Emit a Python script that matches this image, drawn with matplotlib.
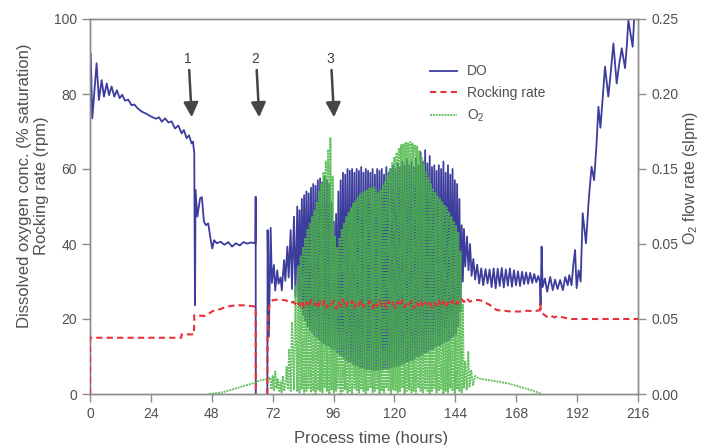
import numpy as np
import matplotlib
matplotlib.use("Agg")
import matplotlib.pyplot as plt

plt.rcParams['font.family'] = ['Liberation Sans', 'DejaVu Sans']
plt.rcParams['mathtext.fontset'] = 'custom'
plt.rcParams['mathtext.rm'] = 'Liberation Sans'
plt.rcParams['mathtext.it'] = 'Liberation Sans:italic'

# ---------------- data ----------------
x_ticks = [0, 24, 48, 72, 96, 120, 144, 168, 192, 216]
left_ticks = [0, 20, 40, 60, 80, 100]
right_ticks = [0.0, 0.05, 0.10, 0.15, 0.20, 0.25]
right_tick_labels = ['0.00', '0.05', '0.05', '0.15', '0.20', '0.25']

# DO (% saturation) - early phase
do_t_a = [0.3, 0.9, 2.6, 3.5, 4.6, 5.5, 6.6, 7.5, 8.5, 9.6, 10.6, 11.7, 12.7, 13.8, 15.1, 16.4,
          17.5, 18.6, 20.4, 22.0, 24.3, 26.0, 27.2, 28.3, 29.6, 30.9, 32.2, 33.5, 34.8, 36.1, 37.0,
          38.1, 39.0, 40.1, 40.6, 41.1, 41.25, 41.4, 41.6, 42.3, 43.4, 44.1, 44.9, 45.7, 46.6,
          47.6, 48.2, 48.9, 50.0, 51.5, 53.0, 54.5, 56.0, 57.5, 59.0, 60.5, 62.0, 63.5, 65.2,
          65.3, 65.35]
do_v_a = [90.8, 73.5, 88.2, 78.4, 83.7, 79.3, 82.8, 79.7, 82.0, 79.3, 81.0, 78.9, 79.8, 78.2, 78.5, 77.0,
          77.2, 76.3, 75.3, 74.8, 73.9, 73.4, 73.8, 72.6, 73.5, 72.4, 72.7, 70.8, 71.6, 69.5, 70.4,
          68.2, 69.0, 66.8, 67.3, 64.2, 40.0, 23.7, 54.4, 47.3, 52.2, 52.5, 46.0, 45.0, 45.5,
          41.0, 38.8, 41.0, 40.2, 40.6, 39.8, 40.5, 39.3, 40.2, 39.6, 40.5, 40.1, 40.4, 40.2,
          52.6, 0.0]
# DO - restart after bag change
do_t_b = [69.9, 70.0, 70.5, 71.2, 71.7, 72.5, 73.0, 73.8, 74.3, 75.1, 75.6, 76.5, 77.0, 77.8,
          78.3, 79.1, 79.6, 80.4, 81.0]
do_v_b = [0.0, 43.7, 15.3, 44.3, 29.6, 34.4, 27.6, 33.0, 29.4, 31.1, 27.6, 35.7, 30.2, 39.3,
          31.1, 43.7, 28.0, 47.3, 26.0]
# DO - controlled (oscillating) phase: peak and trough per control cycle
dense_start = 81.7
dense_period = 0.9
do_peak = [50, 49, 52, 53, 54, 53.5, 55, 56, 55.5, 57, 57.5, 56.5, 58, 57, 56, 51, 46, 48, 54, 57,
           59, 58.5, 60, 59.5, 60, 59, 60, 59.5, 60.5, 59, 60, 59.5, 59, 60, 58.5, 60, 59.5, 60,
           58.5, 60.5, 59, 60, 61, 60, 61.5, 60.5, 62, 61, 62.5, 61, 62, 60.5, 63, 61, 64.5, 62,
           65, 61.5, 63.5, 60.5, 61, 59.5, 61, 60, 62, 59, 61, 58.5, 60, 57, 56, 52, 45]
do_trough = [24, 23, 21, 19.5, 18, 17, 16.5, 15.5, 15, 14.5, 14, 13.5, 13, 13, 12.5, 12, 12, 11,
             10.5, 10, 9.5, 9, 8.5, 8.5, 8, 7.5, 7.5, 7, 7, 6.8, 6.5, 6.5, 6.5, 6.3, 6.5, 6.3, 6.5,
             6.5, 6.8, 6.5, 7, 7, 7.2, 7.5, 7.5, 8, 8, 8.5, 8.5, 9, 9, 9.5, 10, 10, 10.5, 11, 11,
             11.5, 12, 12, 12.5, 13, 13, 13.5, 14, 14, 14.5, 15, 15.5, 16, 18, 22, 30]
# DO - late phase
do_t_d = [147.4, 147.9, 148.6, 149.2, 149.8, 150.4, 151.1, 151.8, 152.6, 153.4, 154.2, 155.0,
          155.9, 156.7, 157.5, 158.3, 159.1, 159.9, 160.7, 161.5, 162.3, 163.1, 163.9, 164.7,
          165.5, 166.3, 167.1, 167.9, 168.7, 169.5, 170.3, 171.1, 171.9, 172.7, 173.5, 174.3,
          175.1, 175.9, 176.7, 177.3, 177.6, 178.0, 178.4, 179.3, 180.2, 181.4, 182.4, 183.3,
          184.3, 185.3, 186.4, 187.3, 188.3, 188.9, 189.8, 190.5, 191.2, 191.8, 192.6, 193.4,
          194.2, 195.5, 196.6, 197.7, 198.7, 199.6, 200.4, 201.2, 202.1, 203.0, 204.3, 205.3,
          206.3, 207.6, 208.6, 209.6, 210.9, 211.6, 212.2, 213.9, 214.8, 216.0]
do_v_d = [44, 34, 42, 33, 40, 31.5, 36, 30.5, 34.5, 29.5, 33.5, 29, 33.3, 29.5, 33.2, 28.5,
          33.5, 28.2, 33.4, 28.8, 33.6, 28.4, 33.2, 28.9, 33.5, 28.6, 33.0, 29.0, 32.7, 28.8,
          32.6, 29.3, 32.4, 29.4, 32.3, 29.6, 32.0, 29.8, 31.5, 30.0, 23.7, 39.3, 28.5, 30.8,
          27.3, 31.2, 27.7, 30.5, 28.0, 30.4, 27.7, 31.2, 29.0, 31.7, 29.0, 34.4, 38.4, 28.2,
          33.0, 30.0, 48.2, 40.2, 52.0, 60.6, 57.0, 66.0, 76.6, 71.0, 79.0, 87.3, 79.3, 86.0,
          93.5, 82.8, 88.0, 92.2, 86.9, 93.0, 99.7, 92.6, 104.0, 103.0]

# Rocking rate (rpm)
rock_t_a = [0, 0, 36.0, 36.1, 41.0, 41.1, 45.5, 48.3, 51.2, 53.9, 57.8, 61.7, 65.3, 65.35]
rock_v_a = [0, 15, 15, 15.9, 15.9, 21.0, 20.8, 22.1, 22.6, 23.3, 23.7, 23.6, 23.3, 0]
rock_t_b = [69.9, 70.0, 70.3, 70.7, 71.2, 72.0, 74.0, 76.0, 77.5, 78.8, 80.0, 80.9]
rock_v_b = [0, 15.3, 21.6, 23.5, 24.5, 25.0, 25.2, 25.1, 24.9, 24.2, 24.6, 24.0]
rock_dense = [24.8, 23.6, 24.9, 22.9, 24.5, 23.2, 25.1, 23.8, 24.2, 22.8, 24.7, 23.5, 25.0, 23.1,
              24.4, 23.9, 24.8, 22.7, 24.6, 23.4, 25.2, 23.0, 24.3, 23.7, 24.9, 22.9, 24.5, 23.6,
              25.1, 23.2, 24.2, 23.9, 24.8, 22.8, 24.6, 23.3, 25.0, 23.5, 24.4, 23.0, 24.9, 23.7,
              24.3, 22.9, 24.7, 23.4, 25.1, 23.1, 24.5, 23.8, 24.8, 22.8, 24.6, 23.5, 25.0, 23.2,
              24.2, 23.9, 24.9, 23.0, 24.4, 23.6, 25.2, 23.3, 24.7, 23.0, 24.5, 23.8, 24.9, 23.4,
              24.6, 24.2, 25.3]
rock_t_d = [147.4, 148.3, 149.8, 151.5, 153.7, 155.5, 157.7, 159.0, 160.3, 163.0, 166.0, 169.5,
            172.0, 175.0, 177.3, 177.5, 177.8, 180.0, 181.5, 183.0, 184.5, 186.0, 187.9, 190.0, 216.0]
rock_v_d = [24.5, 25.6, 24.6, 25.1, 25.0, 24.5, 23.7, 23.0, 22.4, 22.2, 22.0, 22.0, 22.2, 22.1,
            22.3, 24.0, 21.8, 20.6, 21.0, 20.4, 20.8, 20.5, 20.2, 20.0, 20.0]

# O2 flow rate (slpm)
o2_t_a = [47.0, 52.0, 56.0, 60.0, 64.0, 67.0, 70.0, 71.0, 71.5, 72.0, 72.5, 73.0, 73.5, 74.0,
          74.5, 75.0, 75.5, 76.0, 76.5, 77.0, 77.5, 78.0, 78.5, 79.1, 79.6, 80.4, 81.0]
o2_v_a = [0, 0.001, 0.003, 0.005, 0.007, 0.009, 0.010, 0.011, 0.003, 0.012, 0.002, 0.015, 0.004,
          0.010, 0.002, 0.008, 0.001, 0.012, 0.002, 0.006, 0.018, 0.003, 0.030, 0.002, 0.048,
          0.003, 0.072]
o2_low = [0.002, 0.001, 0.003, 0.0, 0.002, 0.004, 0.001, 0.002, 0.0, 0.003, 0.002, 0.001, 0.004,
          0.002, 0.0, 0.003, 0.001, 0.002, 0.004, 0.0, 0.002, 0.003, 0.001, 0.002, 0.0, 0.004,
          0.002, 0.001, 0.003, 0.002, 0.0, 0.002, 0.004, 0.001, 0.002, 0.003, 0.0, 0.002, 0.001,
          0.004, 0.002, 0.0, 0.003, 0.002, 0.001, 0.002, 0.004, 0.0, 0.002, 0.003, 0.001, 0.002,
          0.0, 0.004, 0.002, 0.001, 0.003, 0.002, 0.0, 0.002, 0.004, 0.001, 0.002, 0.003, 0.0,
          0.002, 0.001, 0.004, 0.002, 0.0, 0.003, 0.002, 0.001]
o2_peak = [0.085, 0.092, 0.098, 0.104, 0.110, 0.114, 0.118, 0.122, 0.128, 0.135, 0.140, 0.148,
           0.155, 0.163, 0.171, 0.145, 0.105, 0.098, 0.104, 0.110, 0.114, 0.118, 0.121, 0.124,
           0.127, 0.129, 0.131, 0.133, 0.134, 0.135, 0.136, 0.137, 0.137, 0.138, 0.136, 0.134,
           0.136, 0.139, 0.142, 0.146, 0.150, 0.154, 0.158, 0.161, 0.164, 0.166, 0.167, 0.168,
           0.167, 0.168, 0.167, 0.166, 0.165, 0.162, 0.158, 0.153, 0.148, 0.144, 0.140, 0.137,
           0.134, 0.132, 0.130, 0.128, 0.126, 0.124, 0.121, 0.118, 0.115, 0.112, 0.108, 0.095,
           0.060]
o2_t_d = [147.4, 147.9, 148.5, 149.1, 149.6, 150.2, 151.0, 151.8, 153.0, 156.0, 160.0, 165.0,
          170.0, 175.0, 178.0]
o2_v_d = [0.004, 0.022, 0.003, 0.028, 0.005, 0.016, 0.006, 0.012, 0.0105, 0.0095, 0.0085,
          0.007, 0.0045, 0.002, 0.0]

arrow_labels = ['1', '2', '3']
arrow_times = [40.1, 66.7, 96.2]

# ------------- assemble series -------------
n_c = len(do_peak)
cyc_t = dense_start + dense_period * np.arange(n_c)
half = dense_period / 2

do_dense_t = np.empty(2 * n_c); do_dense_v = np.empty(2 * n_c)
do_dense_t[0::2] = cyc_t; do_dense_t[1::2] = cyc_t + half
do_dense_v[0::2] = do_peak; do_dense_v[1::2] = do_trough

o2_dense_t = np.empty(2 * n_c); o2_dense_v = np.empty(2 * n_c)
o2_dense_t[0::2] = cyc_t; o2_dense_t[1::2] = cyc_t + half
o2_dense_v[0::2] = o2_low; o2_dense_v[1::2] = o2_peak

do_t = np.concatenate([do_t_a, [65.4], do_t_b, do_dense_t, do_t_d])
do_v = np.concatenate([do_v_a, [np.nan], do_v_b, do_dense_v, do_v_d])
rock_t = np.concatenate([rock_t_a, [65.4], rock_t_b, cyc_t, rock_t_d])
rock_v = np.concatenate([rock_v_a, [np.nan], rock_v_b, rock_dense, rock_v_d])
o2_t = np.concatenate([o2_t_a, o2_dense_t, o2_t_d])
o2_v = np.concatenate([o2_v_a, o2_dense_v, o2_v_d])

# ---------------- styling ----------------
TXT = '#505050'
SPN = '#8c8c8c'
C_DO = '#3d3d9e'
C_ROCK = '#e8303a'
C_O2 = '#4cb848'

fig = plt.figure(figsize=(7.01, 4.45), dpi=100)
ax = fig.add_axes([90 / 701, 51 / 445, 548 / 701, 375 / 445])
ax2 = ax.twinx()
ax3 = ax.twinx()

ax.plot(do_t, do_v, color=C_DO, lw=1.3, label='DO', zorder=2)
ax2.plot(o2_t, o2_v, color=C_O2, lw=1.4, ls=(0, (1, 0.5)), alpha=0.85, label='O$_2$')
ax3.plot(rock_t, rock_v, color=C_ROCK, lw=1.5, ls=(0, (3, 2)), label='Rocking rate')

ax.set_xlim(0, 216)
ax.set_ylim(0, 100)
ax2.set_ylim(0, 0.25)
ax3.set_ylim(0, 100)

ax.set_xticks(x_ticks)
ax.set_yticks(left_ticks)
ax2.set_yticks(right_ticks)
ax2.set_yticklabels(right_tick_labels)
ax3.set_yticks([])
for s in ax3.spines.values():
    s.set_visible(False)

for a in (ax, ax2):
    for s in a.spines.values():
        s.set_color(SPN)
        s.set_linewidth(1.0)
    a.tick_params(direction='out', length=6, width=1, color=SPN, labelcolor=TXT, labelsize=10)

ax.set_xlabel('Process time (hours)', fontsize=12, color=TXT)
ax.set_ylabel('Dissolved oxygen conc. (% saturation)\nRocking rate (rpm)', fontsize=12,
              color=TXT, linespacing=1.15)
ax2.set_ylabel('O$_2$ flow rate (slpm)', fontsize=11.5, color=TXT)
ax.yaxis.set_label_coords(-0.075, 0.555)
ax2.yaxis.set_label_coords(1.079, 0.576)
ax.xaxis.set_label_coords(0.513, -0.098)

# arrows
for lab, tx in zip(arrow_labels, arrow_times):
    ax3.annotate('', xy=(tx, 73.8), xytext=(tx - 1.0, 86.4),
                 arrowprops=dict(arrowstyle='-|>', color='#454545', lw=1.8, mutation_scale=22,
                                 shrinkA=0, shrinkB=0))
    ax3.text(tx - 1.6, 89.3, lab, ha='center', va='center', fontsize=10, color='#404040')

h1, l1 = ax.get_legend_handles_labels()
h2, l2 = ax2.get_legend_handles_labels()
h3, l3 = ax3.get_legend_handles_labels()
leg = ax3.legend(h1 + h3 + h2, l1 + l3 + l2, loc='upper left', bbox_to_anchor=(0.598, 0.912),
                 frameon=False, fontsize=10, handlelength=1.9, labelspacing=0.55,
                 handletextpad=0.75, labelcolor=TXT)

fig.savefig('out.png', dpi=100)
